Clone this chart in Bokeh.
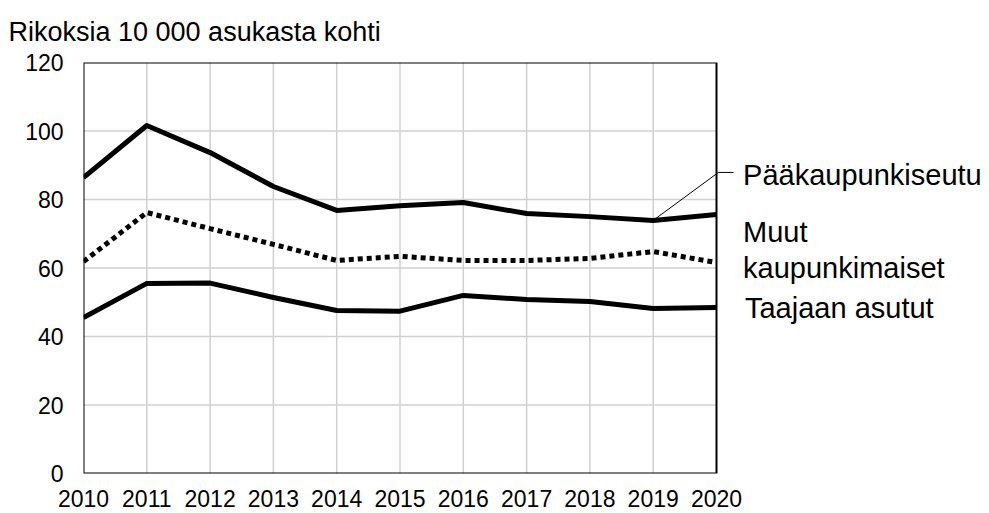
from bokeh.plotting import figure
from bokeh.models import Range1d, FixedTicker, Title
from bokeh.core.properties import value
from bokeh.embed import file_html
from bokeh.resources import INLINE

years = [2010, 2011, 2012, 2013, 2014, 2015, 2016, 2017, 2018, 2019, 2020]
paakaupunkiseutu = [86.4, 101.6, 93.7, 83.8, 76.8, 78.2, 79.1, 75.9, 75.0, 73.9, 75.6]
muut_kaupunkimaiset = [61.9, 76.2, 71.5, 66.9, 62.2, 63.4, 62.2, 62.2, 62.8, 64.8, 61.6]
taajaan_asutut = [45.5, 55.5, 55.6, 51.4, 47.6, 47.4, 52.0, 50.8, 50.2, 48.2, 48.5]
y_ticks = [0, 20, 40, 60, 80, 100, 120]
title_text = "Rikoksia 10 000 asukasta kohti"
series_labels = ["Pääkaupunkiseutu", "Muut", "kaupunkimaiset", "Taajaan asutut"]

FONT = "Liberation Sans"
W, H = 989, 513
LEFT, TOP, BOTTOM = 83, 62, 40
px_per_year = 63.3
frame_w = W - LEFT

p = figure(width=W, height=H, output_backend="svg", toolbar_location=None,
           x_range=Range1d(years[0], years[0] + frame_w / px_per_year),
           y_range=Range1d(y_ticks[0], y_ticks[-1]),
           min_border_left=LEFT, min_border_right=0, min_border_top=TOP,
           min_border_bottom=BOTTOM)
p.outline_line_color = None
p.xgrid.visible = False
p.ygrid.visible = False

p.title = Title(text=title_text, align="left", offset=-LEFT + 8, text_font=FONT,
                text_font_size="27px", text_font_style="normal",
                text_color="#000000", standoff=28, vertical_align="top")

# grid
grid_col = "#d0d0d0"
p.segment(x0=years[1:-1], y0=[y_ticks[0]] * (len(years) - 2),
          x1=years[1:-1], y1=[y_ticks[-1]] * (len(years) - 2),
          line_color=grid_col, line_width=1.5)
p.segment(x0=[years[0]] * (len(y_ticks) - 2), y0=y_ticks[1:-1],
          x1=[years[-1]] * (len(y_ticks) - 2), y1=y_ticks[1:-1],
          line_color=grid_col, line_width=1.5)

# plot box
p.quad(left=[years[0]], right=[years[-1]], bottom=[y_ticks[0]], top=[y_ticks[-1]],
       fill_color=None, line_color="#000000", line_width=2)

# series
p.line(years, paakaupunkiseutu, line_color="#000000", line_width=5, line_join="round")
p.line(years, muut_kaupunkimaiset, line_color="#000000", line_width=5,
       line_dash="5 4", line_cap="butt")
p.line(years, taajaan_asutut, line_color="#000000", line_width=5, line_join="round")

# leader line for Pääkaupunkiseutu
lead_y = 87.9
p.line([years[-2], years[-1] + 0.03, years[-1] + 0.27],
       [paakaupunkiseutu[-2], lead_y, lead_y], line_color="#000000", line_width=1)

lx = years[-1] + 0.42
p.text(x=[lx, lx, lx, lx + 0.03], y=[87.2, 70.4, 59.9, 48.2], text=series_labels,
       text_font=value(FONT), text_font_size="29px", text_align="left",
       text_baseline="middle", text_color="#000000")

# axes
p.yaxis.ticker = FixedTicker(ticks=y_ticks)
p.yaxis.axis_line_color = None
p.yaxis.major_tick_line_color = None
p.yaxis.minor_tick_line_color = None
p.yaxis.major_tick_out = 0
p.yaxis.major_label_standoff = 20
p.yaxis.major_label_text_font = FONT
p.yaxis.major_label_text_font_size = "23px"
p.yaxis.major_label_text_color = "#000000"

p.xaxis.ticker = FixedTicker(ticks=years)
p.xaxis.axis_line_color = None
p.xaxis.major_tick_line_color = None
p.xaxis.minor_tick_line_color = None
p.xaxis.major_tick_out = 0
p.xaxis.major_label_standoff = 16
p.xaxis.major_label_text_font = FONT
p.xaxis.major_label_text_font_size = "23px"
p.xaxis.major_label_text_color = "#000000"

open("out.html", "w").write(file_html(p, INLINE))
